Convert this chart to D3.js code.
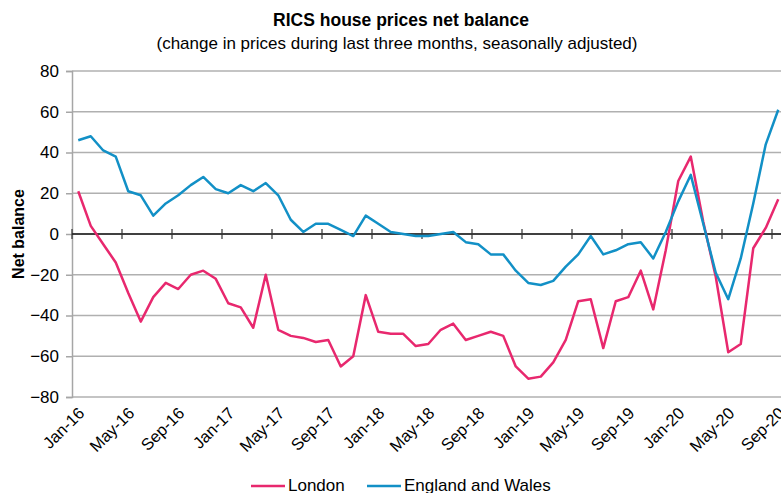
<!DOCTYPE html>
<html>
<head>
<meta charset="utf-8">
<script src="https://cdn.jsdelivr.net/npm/d3@7/dist/d3.min.js"></script>
<style>
  body { margin: 0; background: #fff; }
  svg { display: block; font-family: "Liberation Sans", Arial, sans-serif; }
</style>
</head>
<body>
<svg id="chart" width="781" height="493"></svg>
<script>
// monthly, Jan-16 .. Sep-20
const startMonth = new Date(2016, 0, 1);
const monthCount = 57;

const london = [
  21, 4, -5, -14, -29, -43, -31, -24, -27, -20,
  -18, -22, -34, -36, -46, -20, -47, -50, -51, -53,
  -52, -65, -60, -30, -48, -49, -49, -55, -54, -47,
  -44, -52, -50, -48, -50, -65, -71, -70, -63, -52,
  -33, -32, -56, -33, -31, -18, -37, -8, 26, 38,
  6, -21, -58, -54, -7, 3, 17
];

const englandWales = [
  46, 48, 41, 38, 21, 19, 9, 15, 19, 24,
  28, 22, 20, 24, 21, 25, 19, 7, 1, 5,
  5, 2, -1, 9, 5, 1, 0, -1, -1, 0,
  1, -4, -5, -10, -10, -18, -24, -25, -23, -16,
  -10, -1, -10, -8, -5, -4, -12, 1, 16, 29,
  5, -19, -32, -12, 15, 44, 61
];

const yTicks = [-80, -60, -40, -20, 0, 20, 40, 60, 80];
const seriesNames = ['London', 'England and Wales'];
const seriesColors = ['#e8286e', '#1290c6'];

const months = d3.range(monthCount).map(i => d3.timeMonth.offset(startMonth, i));
const fmt = d3.timeFormat('%b-%y');

const svg = d3.select('#chart');
const plotLeft = 72;
const plotTop = 71;
const plotBottom = 397;
const step = 12.5; // px per month
const plotRight = plotLeft + step * monthCount;

const x = d3.scaleBand()
  .domain(d3.range(monthCount))
  .range([plotLeft, plotRight])
  .paddingInner(0).paddingOuter(0);
const cx = i => x(i) + x.bandwidth() / 2;

const y = d3.scaleLinear()
  .domain([-80, 80])
  .range([plotBottom, plotTop]);

// titles
svg.append('text')
  .attr('x', 401).attr('y', 26)
  .attr('text-anchor', 'middle')
  .style('font-weight', 'bold').style('font-size', '17.5px')
  .text('RICS house prices net balance');
svg.append('text')
  .attr('x', 397).attr('y', 49)
  .attr('text-anchor', 'middle')
  .style('font-size', '17px')
  .text('(change in prices during last three months, seasonally adjusted)');

// gridlines
svg.append('g')
  .selectAll('line')
  .data(yTicks.filter(d => d !== 0))
  .join('line')
  .attr('x1', plotLeft).attr('x2', 781)
  .attr('y1', d => y(d)).attr('y2', d => y(d))
  .attr('stroke', '#b0b0b0').attr('stroke-width', 1.5);

// y axis
const yAxis = d3.axisLeft(y).tickValues(yTicks).tickSize(6).tickPadding(7);
const gy = svg.append('g')
  .attr('transform', `translate(${plotLeft},0)`)
  .call(yAxis);
gy.select('.domain').attr('stroke', '#a6a6a6').attr('stroke-width', 1.5);
gy.selectAll('.tick line').attr('stroke', '#a6a6a6').attr('stroke-width', 1.5);
gy.selectAll('.tick text')
  .style('font-size', '17px').attr('fill', '#000')
  .attr('font-family', '"Liberation Sans", Arial, sans-serif');

svg.append('text')
  .attr('transform', `translate(24,${y(0)}) rotate(-90)`)
  .attr('text-anchor', 'middle')
  .style('font-weight', 'bold').style('font-size', '16px')
  .text('Net balance');

// zero line with category ticks
const tickIdx = d3.range(0, monthCount + 1, 4);
const zero = svg.append('g');
zero.append('line')
  .attr('x1', plotLeft).attr('x2', 781)
  .attr('y1', y(0)).attr('y2', y(0))
  .attr('stroke', '#000').attr('stroke-width', 1.5);
zero.selectAll('.ztick')
  .data(tickIdx)
  .join('line')
  .attr('class', 'ztick')
  .attr('x1', d => plotLeft + d * step).attr('x2', d => plotLeft + d * step)
  .attr('y1', y(0) - 5).attr('y2', y(0) + 5)
  .attr('stroke', '#333').attr('stroke-width', 1.2);

// x labels (every 4th month), rotated
svg.append('g')
  .selectAll('text')
  .data(d3.range(0, monthCount, 4))
  .join('text')
  .attr('transform', d => `translate(${cx(d) - 1},${plotBottom + 9}) rotate(-45)`)
  .attr('text-anchor', 'end')
  .attr('dy', '0.7em')
  .style('font-size', '16.5px')
  .text(d => fmt(months[d]));

// lines
const line = d3.line()
  .x((d, i) => cx(i))
  .y(d => y(d));

[london, englandWales].forEach((data, k) => {
  svg.append('path')
    .datum(data)
    .attr('fill', 'none')
    .attr('stroke', seriesColors[k])
    .attr('stroke-width', 2.5)
    .attr('stroke-linejoin', 'round')
    .attr('d', line);
});

// legend
const legendItems = [
  { x: 251, tx: 288 },
  { x: 367, tx: 404 }
];
const lg = svg.append('g');
legendItems.forEach((it, k) => {
  lg.append('line')
    .attr('x1', it.x).attr('x2', it.x + 34)
    .attr('y1', 486).attr('y2', 486)
    .attr('stroke', seriesColors[k]).attr('stroke-width', 2.5);
  lg.append('text')
    .attr('x', it.tx).attr('y', 491)
    .style('font-size', '17px')
    .text(seriesNames[k]);
});
</script>
</body>
</html>
